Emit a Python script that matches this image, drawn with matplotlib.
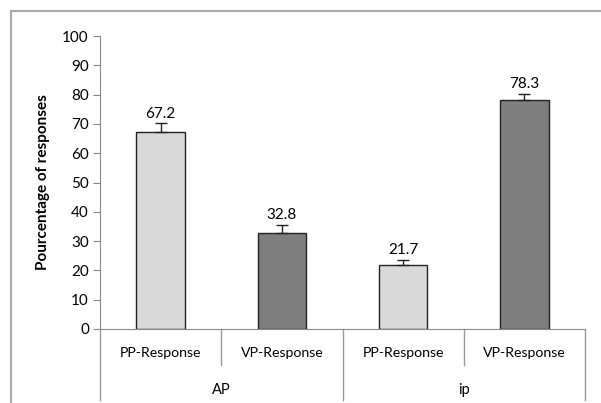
import matplotlib.pyplot as plt
from matplotlib.lines import Line2D

plt.rcParams['font.family'] = ['Lato', 'DejaVu Sans']

responses = ['PP-Response', 'VP-Response', 'PP-Response', 'VP-Response']
groups = ['AP', 'ip']
values = [67.2, 32.8, 21.7, 78.3]
errors = [3.0, 2.7, 1.8, 1.9]
colors = ['#d9d9d9', '#7f7f7f', '#d9d9d9', '#7f7f7f']

fig = plt.figure(figsize=(6.01, 4.03), dpi=100)
ax = fig.add_axes([100 / 601, 74 / 403, 485 / 601, 293 / 403])

x = list(range(len(values)))
ax.bar(x, values, width=0.4, color=colors, edgecolor='#222222', linewidth=1.0, zorder=2)
ax.errorbar(x, values, yerr=[[0] * len(errors), errors], fmt='none', ecolor='#222222',
            elinewidth=1.0, capsize=4, capthick=1.0, zorder=3)
for xi, v, e in zip(x, values, errors):
    ax.annotate(f'{v:.1f}', (xi, v + e), xytext=(0, 2), textcoords='offset points',
                ha='center', va='bottom', fontsize=11)

ax.set_xlim(-0.5, len(values) - 0.5)
ax.set_ylim(0, 100)
ax.set_yticks(range(0, 101, 10))
ax.tick_params(axis='y', direction='out', length=5, color='#888888', labelsize=11, pad=3)
ax.set_xticks([])
for s in ['top', 'right']:
    ax.spines[s].set_visible(False)
for s in ['left', 'bottom']:
    ax.spines[s].set_color('#888888')
ax.set_ylabel('Pourcentage of responses', fontweight='bold', fontsize=11, labelpad=9)

trans = ax.get_xaxis_transform()
for xi, name in zip(x, responses):
    ax.text(xi, -0.082, name, transform=trans, ha='center', va='center', fontsize=10.2)
for gi, name in enumerate(groups):
    ax.text(gi * 2 + 0.5, -0.208, name, transform=trans, ha='center', va='center', fontsize=10.5)
for xs in [-0.5, 0.5, 1.5, 2.5, 3.5]:
    low = -0.242 if xs in (-0.5, 1.5, 3.5) else -0.123
    ax.plot([xs, xs], [0, low], transform=trans, color='#999999', lw=1.0, clip_on=False)

# outer frame (only top and left edges visible)
fig.add_artist(Line2D([11 / 601, 1], [1 - 11 / 403] * 2, color='#aaaaaa', lw=1.5))
fig.add_artist(Line2D([11 / 601] * 2, [0, 1 - 11 / 403], color='#aaaaaa', lw=1.5))

fig.savefig('out.png', dpi=100)
